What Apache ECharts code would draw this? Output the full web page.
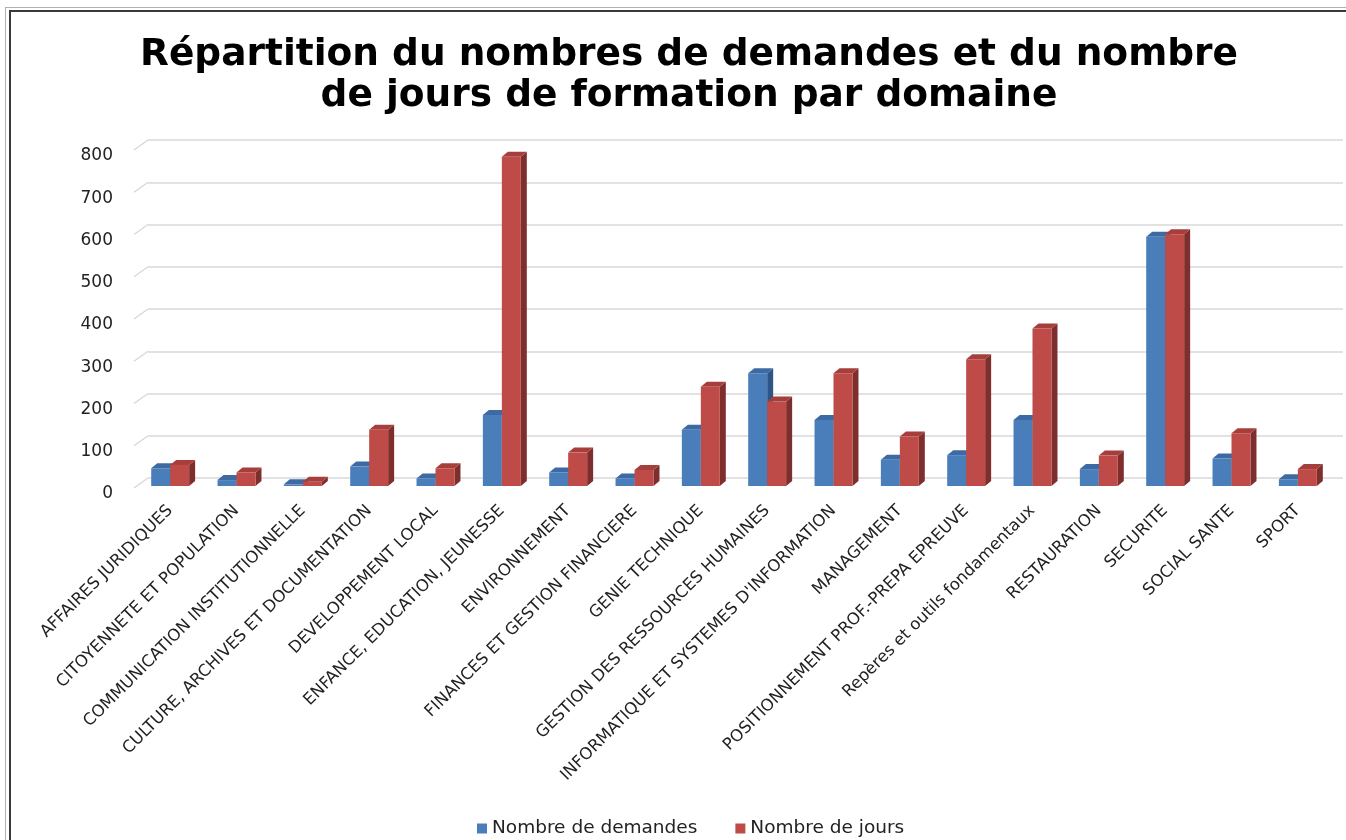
<!DOCTYPE html>
<html>
<head>
<meta charset="utf-8">
<script src="https://cdn.jsdelivr.net/npm/echarts@6/dist/echarts.min.js"></script>
<style>
  html, body { margin: 0; padding: 0; background: #fff; }
  #chart { position: absolute; left: 0; top: 0; width: 1346px; height: 840px; }
  .edge1 { position: absolute; left: 5px; top: 7px; right: 0; bottom: 0; border-left: 1px solid #b0b0b0; border-top: 1px solid #b0b0b0; pointer-events: none; }
  .edge2 { position: absolute; left: 9px; top: 10px; right: 0; bottom: 0; border-left: 2px solid #3a3a3a; border-top: 2px solid #3a3a3a; pointer-events: none; }
</style>
</head>
<body>
<div id="chart"></div>
<div class="edge1"></div>
<div class="edge2"></div>
<script>
// domaines de formation
var categories = [
  'AFFAIRES JURIDIQUES',
  'CITOYENNETE ET POPULATION',
  'COMMUNICATION INSTITUTIONNELLE',
  'CULTURE, ARCHIVES ET DOCUMENTATION',
  'DEVELOPPEMENT LOCAL',
  'ENFANCE, EDUCATION, JEUNESSE',
  'ENVIRONNEMENT',
  'FINANCES ET GESTION FINANCIERE',
  'GENIE TECHNIQUE',
  'GESTION DES RESSOURCES HUMAINES',
  "INFORMATIQUE ET SYSTEMES D'INFORMATION",
  'MANAGEMENT',
  'POSITIONNEMENT PROF.-PREPA EPREUVE',
  'Repères et outils fondamentaux',
  'RESTAURATION',
  'SECURITE',
  'SOCIAL SANTE',
  'SPORT'
];
var demandes = [42, 14, 4, 46, 18, 168, 32, 18, 133, 267, 156, 62, 73, 156, 40, 590, 65, 16];
var jours = [50, 32, 10, 133, 42, 779, 79, 38, 235, 200, 267, 117, 300, 373, 72, 596, 125, 40];
var ticks = [0, 100, 200, 300, 400, 500, 600, 700, 800];

var names = ['Nombre de demandes', 'Nombre de jours'];
var faceColors = ['#4a7ebb', '#be4b48'];
var topColors = ['#3d6aa3', '#a63f3c'];
var sideColors = ['#2f5487', '#7e2e2c'];
var depthX = 6, depthY = 5;

// barre en pseudo 3D : face, dessus et côté
function bar3d(idx) {
  return function (params, api) {
    var ci = api.value(0);
    var v = api.value(1);
    var base = api.coord([ci, 0]);
    var top = api.coord([ci, v]);
    var band = api.size([1, 0])[0];
    var w = band * 0.286;
    var x0 = idx === 0 ? base[0] - w : base[0];
    var x1 = x0 + w;
    var y0 = top[1], y1 = base[1];
    return {
      type: 'group',
      children: [
        {
          type: 'polygon',
          shape: { points: [[x1, y0], [x1 + depthX, y0 - depthY], [x1 + depthX, y1 - depthY], [x1, y1]] },
          style: { fill: sideColors[idx] }
        },
        {
          type: 'polygon',
          shape: { points: [[x0, y0], [x0 + depthX, y0 - depthY], [x1 + depthX, y0 - depthY], [x1, y0]] },
          style: { fill: topColors[idx] }
        },
        {
          type: 'rect',
          shape: { x: x0, y: y0, width: w, height: y1 - y0 },
          style: { fill: faceColors[idx] }
        }
      ]
    };
  };
}

// petites diagonales du mur du fond
function wallTick(params, api) {
  var p = api.coord([0, api.value(1)]);
  return {
    type: 'line',
    shape: { x1: p[0], y1: p[1], x2: p[0] - 14, y2: p[1] + 10 },
    style: { stroke: '#d9d9d9', lineWidth: 1.5 }
  };
}

var myChart = echarts.init(document.getElementById('chart'), null, { renderer: 'canvas' });
myChart.setOption({
  animation: false,
  title: {
    text: 'Répartition du nombres de demandes et du nombre\nde jours de formation par domaine',
    left: 684,
    textAlign: 'center',
    top: 30,
    textStyle: {
      fontFamily: 'DejaVu Sans',
      fontWeight: 'bold',
      fontSize: 37.5,
      lineHeight: 41,
      color: '#000'
    }
  },
  legend: {
    data: names,
    top: 814,
    left: 472,
    icon: 'rect',
    itemWidth: 10,
    itemHeight: 10,
    itemGap: 38,
    textStyle: { fontFamily: 'DejaVu Sans', fontSize: 18.5, color: '#222' }
  },
  grid: [
    { left: 137, right: 15, top: 148, bottom: 354 },
    { left: 148, right: 3, top: 140, bottom: 362 },
    { left: 137, right: 15, top: 156, bottom: 346 }
  ],
  xAxis: [
    {
      gridIndex: 0,
      type: 'category',
      data: categories,
      axisLine: { show: false },
      axisTick: { show: false },
      axisLabel: {
        interval: 0,
        rotate: 45,
        margin: 22,
        fontFamily: 'DejaVu Sans',
        fontSize: 16.5,
        color: '#222'
      }
    },
    { gridIndex: 1, type: 'value', min: 0, max: 1, show: false },
    { gridIndex: 2, type: 'value', min: 0, max: 1, show: false }
  ],
  yAxis: [
    {
      gridIndex: 0,
      type: 'value',
      min: 0,
      max: 800,
      interval: 100,
      show: false
    },
    {
      gridIndex: 1,
      type: 'value',
      min: 0,
      max: 800,
      interval: 100,
      axisLine: { show: false },
      axisTick: { show: false },
      axisLabel: { show: false },
      splitLine: { show: true, lineStyle: { color: '#d9d9d9', width: 1.5 } }
    },
    {
      gridIndex: 2,
      type: 'value',
      min: 0,
      max: 800,
      interval: 100,
      axisLine: { show: false },
      axisTick: { show: false },
      splitLine: { show: false },
      axisLabel: {
        margin: 24,
        fontFamily: 'DejaVu Sans',
        fontSize: 17,
        color: '#222'
      }
    }
  ],
  series: [
    {
      type: 'custom',
      xAxisIndex: 1,
      yAxisIndex: 1,
      silent: true,
      renderItem: wallTick,
      data: ticks.map(function (t) { return [0, t]; })
    },
    {
      name: names[0],
      type: 'custom',
      renderItem: bar3d(0),
      itemStyle: { color: faceColors[0] },
      data: demandes.map(function (v, i) { return [i, v]; }),
      encode: { x: 0, y: 1 }
    },
    {
      name: names[1],
      type: 'custom',
      renderItem: bar3d(1),
      itemStyle: { color: faceColors[1] },
      data: jours.map(function (v, i) { return [i, v]; }),
      encode: { x: 0, y: 1 }
    }
  ]
});
</script>
</body>
</html>
